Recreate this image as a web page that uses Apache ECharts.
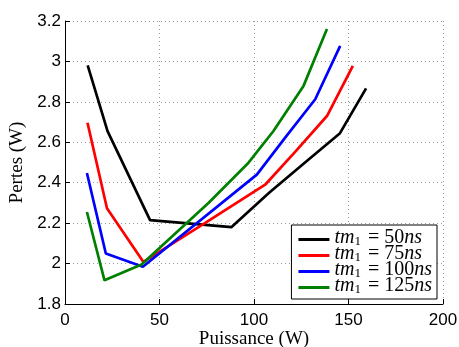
<!DOCTYPE html>
<html><head><meta charset="utf-8">
<script src="https://cdn.jsdelivr.net/npm/echarts@6/dist/echarts.min.js"></script>
<style>html,body{margin:0;padding:0;background:#fff}#c{width:459px;height:347px}</style>
</head><body><div id="c"></div>
<script>
const xTicks = [0, 50, 100, 150, 200];
const yTicks = [1.8, 2, 2.2, 2.4, 2.6, 2.8, 3, 3.2];
const seriesNames = ['50', '75', '100', '125'];
const tm50 = [[12, 2.98], [22.5, 2.655], [45, 2.215], [88, 2.18], [108, 2.35], [127, 2.5], [145.5, 2.645], [159.3, 2.867]];
const tm75 = [[11.9, 2.697], [22.2, 2.274], [41.5, 2.008], [74, 2.2], [105.9, 2.39], [122, 2.555], [138.6, 2.73], [152.3, 2.978]];
const tm100 = [[11.6, 2.448], [21.6, 2.05], [41.2, 1.984], [101.5, 2.44], [116.5, 2.623], [132.4, 2.813], [145.6, 3.077]];
const tm125 = [[11.6, 2.255], [20.9, 1.917], [40.5, 1.995], [75.9, 2.30], [97.1, 2.499], [110.3, 2.656], [126.2, 2.879], [138.6, 3.16]];
const colors = ['#000000', '#ff0000', '#0000ff', '#008000'];
const allData = [tm50, tm75, tm100, tm125];

const chart = echarts.init(document.getElementById('c'), null, {renderer: 'canvas'});
const series = allData.map((d, i) => ({
  name: seriesNames[i],
  type: 'line',
  data: d,
  symbol: 'none',
  lineStyle: {color: colors[i], width: 2.7},
  itemStyle: {color: colors[i]},
  z: 3 + i
}));
chart.setOption({
  animation: false,
  backgroundColor: '#fff',
  grid: {left: 65, right: 16, top: 21, bottom: 43, containLabel: false, outerBoundsMode: 'none'},
  xAxis: {
    type: 'value', min: 0, max: 200, interval: 50,
    name: 'Puissance (W)', nameLocation: 'middle', nameGap: 26, nameMoveOverlap: false,
    nameTextStyle: {fontFamily: 'Liberation Serif', fontSize: 19, color: '#000', lineHeight: 19},
    axisLine: {show: true, onZero: false, lineStyle: {color: '#000', width: 1}},
    axisTick: {show: true, inside: true, length: 5, lineStyle: {color: '#000'}},
    axisLabel: {fontFamily: 'Liberation Sans', fontSize: 17, color: '#000', margin: 8},
    splitLine: {show: true, lineStyle: {color: '#999', type: [1, 3], width: 1}}
  },
  yAxis: {
    type: 'value', min: 1.8, max: 3.2, interval: 0.2,
    name: 'Pertes (W)', nameLocation: 'middle', nameGap: 37,
    nameTextStyle: {fontFamily: 'Liberation Serif', fontSize: 19, color: '#000'},
    axisLine: {show: true, onZero: false, lineStyle: {color: '#000', width: 1}},
    axisTick: {show: true, inside: true, length: 5, lineStyle: {color: '#000'}},
    axisLabel: {fontFamily: 'Liberation Sans', fontSize: 17, color: '#000', margin: 4,
      formatter: v => String(Math.round(v * 10) / 10)},
    splitLine: {show: true, lineStyle: {color: '#999', type: [1, 3], width: 1}}
  },
  legend: {
    orient: 'vertical', right: 22, bottom: 48,
    backgroundColor: '#fff', borderColor: '#000', borderWidth: 1, borderRadius: 0,
    padding: [3, 5, 3, 7], itemGap: -4, itemWidth: 31, itemHeight: 3, icon: 'rect',
    data: seriesNames,
    formatter: n => '{i|tm}{s|1}{n| = ' + n + '}{i|ns}',
    textStyle: {
      color: '#000', fontSize: 20, fontFamily: 'Liberation Serif', lineHeight: 17,
      rich: {
        i: {fontStyle: 'italic', fontFamily: 'Liberation Serif', fontSize: 20, color: '#000', verticalAlign: 'bottom', lineHeight: 17},
        s: {fontFamily: 'Liberation Serif', fontSize: 13, color: '#000', verticalAlign: 'bottom', lineHeight: 12, padding: [0, 2, 0, 0]},
        n: {fontFamily: 'Liberation Serif', fontSize: 20, color: '#000', verticalAlign: 'bottom', lineHeight: 17}
      }
    }
  },
  series: series
});
</script></body></html>
